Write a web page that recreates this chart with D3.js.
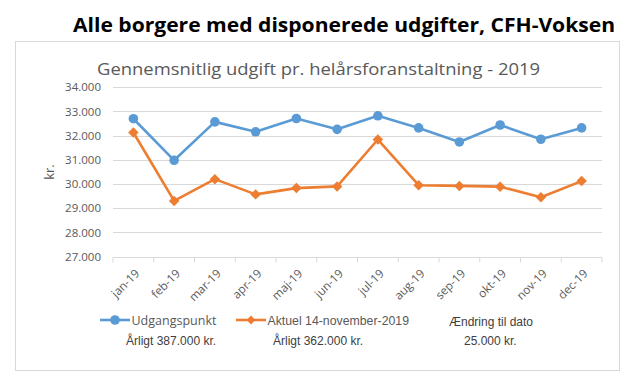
<!DOCTYPE html>
<html><head><meta charset="utf-8">
<script src="https://cdn.jsdelivr.net/npm/d3@7"></script>
<style>body{margin:0;background:#fff}svg{display:block}</style>
</head><body>
<svg id="c" width="635" height="381"></svg>
<script>
const months = ["jan-19","feb-19","mar-19","apr-19","maj-19","jun-19","jul-19","aug-19","sep-19","okt-19","nov-19","dec-19"];
const udgangspunkt = [32700,30980,32570,32160,32710,32260,32820,32320,31740,32440,31850,32320];
const aktuel = [32130,29300,30200,29570,29830,29900,31840,29950,29920,29890,29450,30120];
const yTicks = [27000,28000,29000,30000,31000,32000,33000,34000];
const seriesNames = ["Udgangspunkt","Aktuel 14-november-2019"];
const annualLabels = ["Årligt 387.000 kr.","Årligt 362.000 kr."];
const changeLabels = ["Ændring til dato","25.000 kr."];

const svg = d3.select("#c");
const blue = "#5B9BD5", orange = "#ED7D31", grid = "#D9D9D9", txt = "#595959";
const calibri = "'Open Sans', Lato, sans-serif";
const arial = "'Liberation Sans', Arial, sans-serif";

// outer chart border
svg.append("rect").attr("x",15.5).attr("y",41.5).attr("width",604).attr("height",329)
  .attr("fill","#fff").attr("stroke","#D9D9D9").attr("stroke-width",1);

// title
svg.append("text").attr("x",73).attr("y",32).text("Alle borgere med disponerede udgifter, CFH-Voksen")
  .attr("font-family",calibri).attr("font-weight","bold").attr("font-size",20).attr("fill","#000")
  .attr("textLength",542).attr("lengthAdjust","spacingAndGlyphs");
// subtitle
svg.append("text").attr("x",97).attr("y",75).text("Gennemsnitlig udgift pr. helårsforanstaltning - 2019")
  .attr("font-family",calibri).attr("font-size",17).attr("fill",txt)
  .attr("textLength",443).attr("lengthAdjust","spacingAndGlyphs");

const x = d3.scaleBand().domain(months).range([113,602]).padding(0);
const y = d3.scaleLinear().domain([27000,34000]).range([256.5,87.3]);

// gridlines
svg.append("g").selectAll("line").data(yTicks.slice(1)).join("line")
  .attr("x1",113).attr("x2",602).attr("y1",d=>Math.round(y(d))+0.5).attr("y2",d=>Math.round(y(d))+0.5)
  .attr("stroke",grid).attr("stroke-width",1);

// y axis
const fmt = d => d3.format(",")(d).replace(/,/g,".");
const ya = svg.append("g").attr("transform","translate(113,0)")
  .call(d3.axisLeft(y).tickValues(yTicks).tickFormat(fmt).tickSize(0).tickPadding(12));
ya.select(".domain").remove();
ya.selectAll("text").attr("font-family",calibri).attr("font-size",11.5).attr("fill",txt);

// x axis
const xa = svg.append("g").attr("transform",`translate(0,${Math.round(y(27000))+0.5})`)
  .call(d3.axisBottom(x).tickSize(0).tickFormat(""));
xa.select(".domain").attr("stroke",grid).attr("d","M113,0H602");
xa.selectAll(".tick").remove();
xa.selectAll("line.tk").data(months.concat(["end"])).join("line").attr("class","tk")
  .attr("x1",(d,i)=>x.range()[0]+i*x.bandwidth()).attr("x2",(d,i)=>x.range()[0]+i*x.bandwidth())
  .attr("y1",0).attr("y2",5).attr("stroke",grid);
xa.selectAll("text.lbl").data(months).join("text").attr("class","lbl")
  .attr("transform",d=>`translate(${x(d)+x.bandwidth()/2+1},11) rotate(-45)`)
  .attr("text-anchor","end").attr("dy","0.7em")
  .attr("font-family",calibri).attr("font-size",11.7).attr("fill",txt).text(d=>d);

// y axis title
svg.append("text").attr("transform","translate(54,172) rotate(-90)").attr("text-anchor","middle")
  .attr("font-family",calibri).attr("font-size",13).attr("fill",txt).text("kr.");

// lines
const line = d3.line().x((d,i)=>x(months[i])+x.bandwidth()/2).y(d=>y(d));
svg.append("path").datum(udgangspunkt).attr("d",line).attr("fill","none").attr("stroke",blue)
  .attr("stroke-width",2.6).attr("stroke-linejoin","round");
svg.append("path").datum(aktuel).attr("d",line).attr("fill","none").attr("stroke",orange)
  .attr("stroke-width",2.6).attr("stroke-linejoin","round");
svg.append("g").selectAll("circle").data(udgangspunkt).join("circle")
  .attr("cx",(d,i)=>x(months[i])+x.bandwidth()/2).attr("cy",d=>y(d)).attr("r",4.8).attr("fill",blue);
const diamond = d3.symbol().type(d3.symbolDiamond2).size(70);
svg.append("g").selectAll("path").data(aktuel).join("path")
  .attr("transform",(d,i)=>`translate(${x(months[i])+x.bandwidth()/2},${y(d)})`)
  .attr("d",diamond).attr("fill",orange);

// legend
const lg = svg.append("g");
lg.append("line").attr("x1",100).attr("x2",130).attr("y1",320).attr("y2",320).attr("stroke",blue).attr("stroke-width",2.6);
lg.append("circle").attr("cx",115).attr("cy",320).attr("r",4.8).attr("fill",blue);
lg.append("text").attr("x",131.5).attr("y",324.5).attr("font-family",calibri).attr("font-size",12.5).attr("fill",txt).text(seriesNames[0]);
lg.append("line").attr("x1",236).attr("x2",266).attr("y1",320).attr("y2",320).attr("stroke",orange).attr("stroke-width",2.6);
lg.append("path").attr("transform","translate(251,320)").attr("d",d3.symbol().type(d3.symbolDiamond2).size(50)).attr("fill",orange);
lg.append("text").attr("x",267.5).attr("y",324.5).attr("font-family",arial).attr("font-size",12.3).attr("fill",txt).text(seriesNames[1]);

lg.append("text").attr("x",126).attr("y",344.5).attr("font-family",arial).attr("font-size",12).attr("fill","#404040").text(annualLabels[0]);
lg.append("text").attr("x",273).attr("y",344.5).attr("font-family",arial).attr("font-size",12).attr("fill","#404040").text(annualLabels[1]);
lg.append("text").attr("x",449).attr("y",326).attr("font-family",arial).attr("font-size",12).attr("fill","#404040").text(changeLabels[0]);
lg.append("text").attr("x",464).attr("y",345).attr("font-family",arial).attr("font-size",12).attr("fill","#404040").text(changeLabels[1]);
</script>
</body></html>
